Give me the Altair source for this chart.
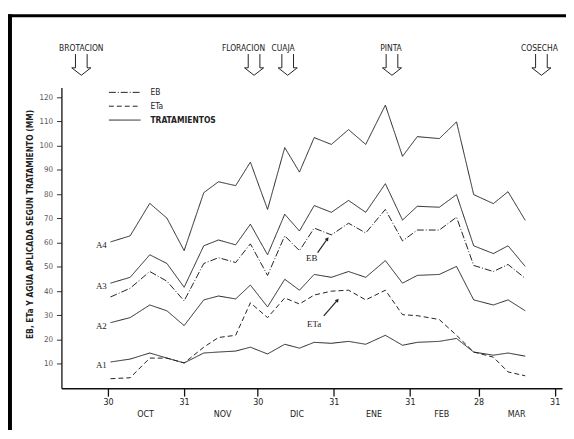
import altair as alt
import pandas as pd

# ---- data ----
# days counted from 30 September
days = [1, 9, 17, 24, 31, 39, 45, 52, 58, 65, 72, 78, 84, 91, 98, 105, 113, 120, 126, 135, 142, 149, 157, 163, 170]
A4 = [60.3, 62.8, 76.2, 70.1, 56.7, 80.6, 85.1, 83.5, 93.2, 73.7, 99.2, 89.1, 103.3, 100.5, 106.6, 100.5, 116.7, 95.6, 103.7, 102.9, 109.8, 79.8, 76.1, 81.0, 69.2]
A3 = [43.3, 45.7, 55.0, 51.4, 41.6, 58.7, 61.1, 59.1, 67.6, 55.0, 71.7, 64.8, 75.3, 72.5, 77.4, 72.5, 84.3, 69.3, 75.0, 74.6, 79.8, 58.7, 55.5, 58.7, 50.2]
EB = [37.6, 41.2, 48.1, 44.1, 36.0, 51.4, 53.8, 51.8, 59.5, 46.5, 62.8, 56.7, 66.0, 63.2, 68.0, 64.0, 73.7, 60.7, 65.2, 65.2, 70.5, 50.6, 48.1, 51.0, 45.3]
A2 = [27.0, 29.1, 34.3, 31.9, 25.8, 36.4, 38.0, 36.8, 42.5, 33.5, 44.9, 40.4, 46.9, 45.7, 48.1, 45.7, 52.6, 43.3, 46.5, 46.9, 50.2, 36.4, 34.3, 36.4, 31.9]
A1 = [10.8, 12.0, 14.5, 12.4, 10.4, 14.5, 14.9, 15.3, 16.9, 14.1, 18.1, 16.5, 18.9, 18.5, 19.3, 18.1, 21.8, 17.7, 18.9, 19.3, 20.5, 14.9, 13.6, 14.5, 13.2]
ETa = [3.9, 4.3, 12.4, 12.4, 10.4, 16.9, 20.9, 21.8, 35.2, 29.1, 37.2, 34.7, 38.4, 40.0, 40.4, 36.4, 40.4, 30.3, 29.9, 28.3, 21.8, 14.9, 12.8, 6.7, 5.1]

tick_days = [0, 31, 61, 92, 123, 151, 182]
tick_labels = ["30", "31", "30", "31", "31", "28", "31"]
y_ticks = [10, 20, 30, 40, 50, 60, 70, 80, 90, 100, 110, 120]
months = ["OCT", "NOV", "DIC", "ENE", "FEB", "MAR"]
month_days = [15.3, 46.7, 77, 108.4, 136, 166.5]

stages = ["BROTACION", "FLORACION", "CUAJA", "PINTA", "COSECHA"]
stage_label_days = [-10.9, 55.2, 71.3, 115.3, 175.8]
stage_arrow_days = [-10.9, 59.5, 73.2, 115.7, 176.6]

legend_names = ["EB", "ETa", "TRATAMIENTOS"]

# annotation (label, text day, text value, arrow start day/value, arrow tip day/value)
ann_labels = ["EB", "ETa"]
ann_day = [83.0, 84.0]
ann_val = [53.5, 26.5]
ann_from_day = [85.4, 87.9]
ann_from_val = [55.9, 29.8]
ann_to_day = [89.4, 93.5]
ann_to_val = [61.6, 36.3]

# ---- build tables ----
series = {"A4": A4, "A3": A3, "EB": EB, "A2": A2, "A1": A1, "ETa": ETa}
tipo = {"A4": "TRATAMIENTOS", "A3": "TRATAMIENTOS", "A2": "TRATAMIENTOS", "A1": "TRATAMIENTOS", "EB": "EB", "ETa": "ETa"}
rows = []
for name, vals in series.items():
    for d, v in zip(days, vals):
        rows.append({"day": d, "valor": v, "serie": name, "tipo": tipo[name]})
df = pd.DataFrame(rows)

lab_df = pd.DataFrame({
    "serie": ["A4", "A3", "A2", "A1"],
    "day": [-0.5] * 4,
    "valor": [A4[0], A3[0], A2[0], A1[0]],
})
month_df = pd.DataFrame({"mes": months, "day": month_days})
stage_df = pd.DataFrame({"fase": stages, "day": stage_label_days})
arrow_df = pd.DataFrame({"fase": stages, "day": stage_arrow_days})
ann_df = pd.DataFrame({"lab": ann_labels, "day": ann_day, "valor": ann_val})
seg_rows = []
for i, l in enumerate(ann_labels):
    seg_rows.append({"lab": l, "day": ann_from_day[i], "valor": ann_from_val[i], "o": 0})
    seg_rows.append({"lab": l, "day": ann_to_day[i], "valor": ann_to_val[i], "o": 1})
seg_df = pd.DataFrame(seg_rows)
tip_df = pd.DataFrame({"lab": ann_labels, "day": ann_to_day, "valor": ann_to_val})

W, H = 506, 304
SANS = "Liberation Sans Narrow, DejaVu Sans Condensed, Liberation Sans"
SERIF = "Liberation Serif, DejaVu Serif"
INK = "#222222"

xscale = alt.Scale(domain=[-19, 185], nice=False, zero=False)
yscale = alt.Scale(domain=[0, 124], nice=False)

label_expr = "{}[indexof({}, datum.value)]".format(
    "[" + ",".join("'%s'" % t for t in tick_labels) + "]",
    "[" + ",".join(str(t) for t in tick_days) + "]",
)

xaxis = alt.Axis(values=tick_days, labelExpr=label_expr, title=None, grid=False,
                 domainColor="#111", domainWidth=1.6, tickColor="#111", tickWidth=1.3,
                 tickSize=8, labelFontSize=9, labelFont=SANS, labelColor="#222",
                 labelPadding=2)
yaxis = alt.Axis(values=y_ticks, grid=False, title="EB, ETa Y AGUA APLICADA SEGUN TRATAMIENTO (MM)",
                 titleFont=SANS, titleFontSize=8.5, titleFontWeight="bold", titleColor="#222",
                 titleX=-27, titleY=H / 2 - 14, titleAlign="center", titleAngle=-90,
                 domainColor="#111", domainWidth=1.3, tickColor="#333", tickSize=5, tickWidth=1,
                 labelFontSize=8, labelFont=SANS, labelColor="#555", labelPadding=4)

X = alt.X("day:Q", scale=xscale, axis=xaxis)
Y = alt.Y("valor:Q", scale=yscale, axis=yaxis)

lines = alt.Chart(df).mark_line(strokeWidth=1, color=INK).encode(
    x=X, y=Y,
    strokeDash=alt.StrokeDash("tipo:N", scale=alt.Scale(domain=legend_names,
                              range=[[7, 2, 1, 2], [5, 3], [1, 0]]), legend=None),
    detail="serie:N",
)

series_labels = alt.Chart(lab_df).mark_text(font=SERIF, fontSize=9, align="right", dy=3, color=INK).encode(
    x=X, y=Y, text="serie:N")

month_text = alt.Chart(month_df).mark_text(font=SANS, fontSize=9, color=INK, baseline="middle").encode(
    x=X, y=alt.value(H + 26), text="mes:N")

stage_text = alt.Chart(stage_df).mark_text(font=SANS, fontSize=8.5, color=INK, baseline="middle").encode(
    x=X, y=alt.value(-40), text="fase:N")

arrow_path = "M -0.55 -1 L -0.55 0.3 L -0.9 0.3 L 0 1 L 0.9 0.3 L 0.55 0.3 L 0.55 -1"
stage_arrows = alt.Chart(arrow_df).mark_point(shape=arrow_path, filled=False, size=460,
                                              color=INK, strokeWidth=1, opacity=1).encode(
    x=X, y=alt.value(-23))

ann_text = alt.Chart(ann_df).mark_text(font=SERIF, fontSize=9, color=INK, align="center", baseline="middle").encode(
    x=X, y=Y, text="lab:N")
ann_seg = alt.Chart(seg_df).mark_line(color=INK, strokeWidth=1.2).encode(
    x=X, y=Y, detail="lab:N", order="o:Q")
ann_tip = alt.Chart(tip_df).mark_point(shape="triangle-up", filled=True, size=18, angle=38,
                                       color=INK, opacity=1).encode(x=X, y=Y)

# legend drawn as a key inside the plot
leg_dash = [[7, 2, 1, 2], [5, 3], [1, 0]]
leg_layers = []
for i, name in enumerate(legend_names):
    base = alt.Chart(pd.DataFrame({"n": [name]}))
    ypos = 5 + 14 * i
    leg_layers.append(base.mark_rule(color=INK, strokeWidth=1, strokeDash=leg_dash[i]).encode(
        x=alt.value(48), x2=alt.value(80), y=alt.value(ypos)))
    leg_layers.append(base.mark_text(font=SANS, fontSize=8.5, fontWeight="bold" if i == 2 else "normal",
                                     color=INK, align="left", baseline="middle").encode(
        x=alt.value(90), y=alt.value(ypos), text="n:N"))

# page frame (thick scan border)
frame = alt.Chart(pd.DataFrame({"f": [0]}))
frame_left = frame.mark_rule(color="#000", strokeWidth=5).encode(
    x=alt.value(-52.5), y=alt.value(-74), y2=alt.value(H + 60))
frame_top = frame.mark_rule(color="#000", strokeWidth=3).encode(
    x=alt.value(-55), x2=alt.value(W + 10), y=alt.value(-72.5))

chart = alt.layer(
    lines, series_labels, month_text, stage_text, stage_arrows,
    ann_seg, ann_tip, ann_text, *leg_layers, frame_left, frame_top
).properties(
    width=W, height=H,
    padding={"left": 54, "top": 78, "right": 4, "bottom": 40},
    autosize=alt.AutoSizeParams(type="none"),
    background="white",
).configure_view(stroke=None)

chart.save("out.html", embed_options={"renderer": "svg", "actions": False})
